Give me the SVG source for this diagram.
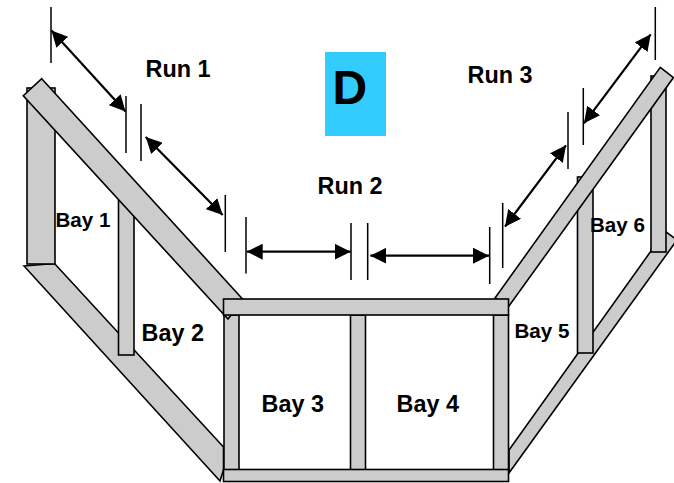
<svg xmlns="http://www.w3.org/2000/svg" width="674" height="483" viewBox="0 0 674 483">
<style>
.f{fill:#cccccc;stroke:#000;stroke-width:1.6}
.d{stroke:#000;stroke-width:1.5;fill:none}
.a{stroke:#000;stroke-width:2.2;fill:none;marker-start:url(#h);marker-end:url(#h)}
text{font-family:"Liberation Sans",Arial,sans-serif;font-weight:700;fill:#000}
.b{font-size:23.4px}
.s{font-size:20.6px}
</style>
<defs><marker id="h" markerUnits="userSpaceOnUse" markerWidth="16" markerHeight="16" refX="16" refY="8" orient="auto-start-reverse"><path d="M0,0L16,8L0,16z" fill="#000"/></marker></defs>
<rect width="674" height="483" fill="#fff"/>
<g id="badge"><rect x="325" y="52" width="61" height="84" fill="#33ccff"/><text x="332.5" y="104" style="font-size:48px">D</text></g>
<g id="beam-left-lower"><polygon class="f" points="24,266 54.5,263.5 223.5,447 223.5,470 220,481"/></g>
<g id="beam-right-lower"><polygon class="f" points="651,251 658,226 677,240 509,473 509,450"/></g>
<g id="bay1-post"><rect class="f" x="27" y="88" width="28" height="176"/></g>
<g id="bay2-post"><rect class="f" x="118.5" y="200" width="15.5" height="155"/></g>
<g id="bay5-post"><rect class="f" x="577.5" y="177" width="15.5" height="176"/></g>
<g id="bay6-post"><rect class="f" x="651" y="76" width="15" height="176"/></g>
<g id="frame-left-post"><rect class="f" x="224" y="315" width="15" height="155"/></g>
<g id="frame-mid-post"><rect class="f" x="350.5" y="315" width="15" height="155"/></g>
<g id="frame-right-post"><rect class="f" x="493.5" y="315" width="15" height="155"/></g>
<g id="beam-left-upper"><polygon class="f" points="41.7,78.7 243,299.5 228,319 23.3,95.7"/></g>
<g id="beam-right-upper"><polygon class="f" points="660.3,67.3 673.5,77.5 509,306 495,298"/></g>
<g id="frame-top"><rect class="f" x="223.5" y="299" width="285" height="16"/></g>
<g id="frame-bottom"><rect class="f" x="223.5" y="469.5" width="285" height="12"/></g>
<g id="connectors">
<path class="d" d="M51,7V63M126,96V153M141,104V161M225.3,195V252M246,217V273.5M351,223V280M367.7,223V280M489.7,227V284M502.7,203V268M568,112V169M583.3,88V145M655.3,7V60"/>
<path class="a" d="M51.5,30.5L125.5,111.5"/>
<path class="a" d="M145.7,137L222.7,215"/>
<path class="a" d="M246.7,251.7H350.7"/>
<path class="a" d="M370.3,255.7H489"/>
<path class="a" d="M505,226.7L566,145.3"/>
<path class="a" d="M584,123.3L650.7,34.3"/>
</g>
<g id="labels">
<text class="b" x="145.5" y="76.5">Run 1</text>
<text class="b" x="317.5" y="194">Run 2</text>
<text class="b" x="467.5" y="82.7">Run 3</text>
<text class="s" x="55.5" y="227">Bay 1</text>
<text class="b" x="141.5" y="340.5">Bay 2</text>
<text class="b" x="261.5" y="412">Bay 3</text>
<text class="b" x="396.5" y="412">Bay 4</text>
<text class="s" x="514.5" y="338">Bay 5</text>
<text class="s" x="590" y="232">Bay 6</text>
</g>
</svg>
